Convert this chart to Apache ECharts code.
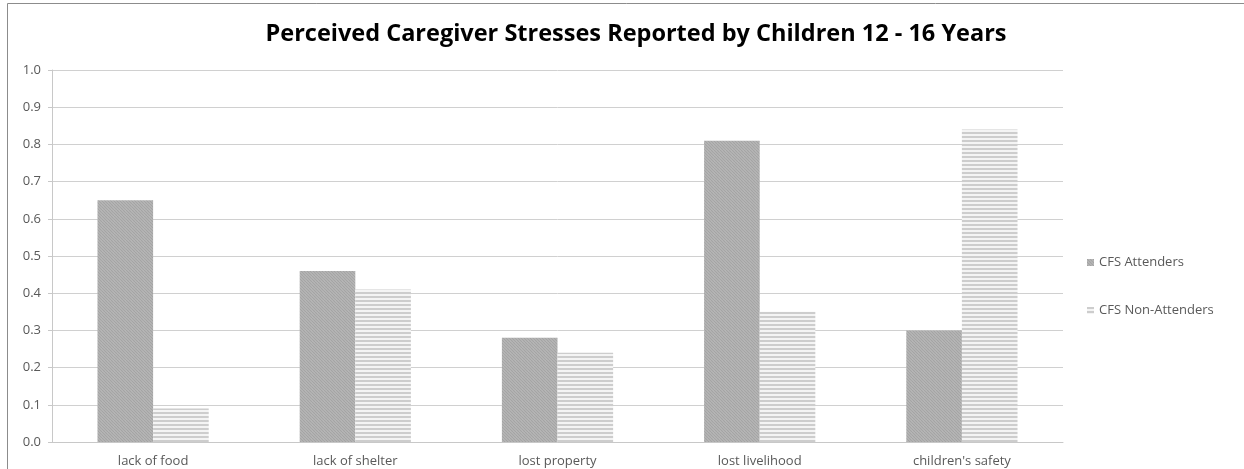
<!DOCTYPE html>
<html>
<head>
<meta charset="utf-8">
<script src="https://cdn.jsdelivr.net/npm/echarts@6/dist/echarts.min.js"></script>
<style>
  html, body { margin: 0; padding: 0; background: #fff; }
  #main { width: 1244px; height: 469px; }
</style>
</head>
<body>
<div id="main"></div>
<script>
// data
var categories = ['lack of food', 'lack of shelter', 'lost property', 'lost livelihood', "children's safety"];
var attenders = [0.65, 0.46, 0.28, 0.81, 0.30];
var nonAttenders = [0.09, 0.41, 0.24, 0.35, 0.84];

// fill patterns (diagonal hatch / horizontal stripes)
function diagPattern() {
  var c = document.createElement('canvas');
  c.width = 6; c.height = 6;
  var ctx = c.getContext('2d');
  ctx.fillStyle = '#bababa';
  ctx.fillRect(0, 0, 6, 6);
  ctx.strokeStyle = '#a4a4a4';
  ctx.lineWidth = 1.2;
  for (var k = -6; k <= 12; k += 3) {
    ctx.beginPath();
    ctx.moveTo(k, 0);
    ctx.lineTo(k + 6, 6);
    ctx.stroke();
  }
  return c;
}
function stripePattern() {
  var c = document.createElement('canvas');
  c.width = 4; c.height = 4;
  var ctx = c.getContext('2d');
  ctx.fillStyle = '#f4f4f4';
  ctx.fillRect(0, 0, 4, 4);
  ctx.fillStyle = '#cdcdcd';
  ctx.fillRect(0, 0, 4, 2);
  return c;
}

var chart = echarts.init(document.getElementById('main'));
var labelColor = '#595959';
var font = 'Open Sans';
var option = {
  backgroundColor: '#fff',
  animation: false,
  title: {
    text: 'Perceived Caregiver Stresses Reported by Children 12 - 16 Years',
    left: 631,
    top: 17,
    textAlign: 'center',
    textStyle: {
      fontFamily: font,
      fontWeight: 'bold',
      fontSize: 23.5,
      color: '#000'
    }
  },
  graphic: [{
    type: 'rect',
    shape: { x: 7.5, y: 3.5, width: 1240, height: 470 },
    style: { fill: 'none', stroke: '#8c8c8c', lineWidth: 1 },
    silent: true
  }],
  legend: {
    orient: 'vertical',
    left: 1082,
    top: 251,
    itemGap: 35,
    itemWidth: 7,
    itemHeight: 7,
    icon: 'rect',
    textStyle: { fontFamily: font, fontSize: 13, color: labelColor },
    data: ['CFS Attenders', 'CFS Non-Attenders']
  },
  grid: { left: 52, right: 181, top: 70, bottom: 27 },
  xAxis: {
    type: 'category',
    data: categories,
    axisLine: { lineStyle: { color: '#c8c8c8' } },
    axisTick: { show: false },
    axisLabel: { fontFamily: font, fontSize: 13, color: labelColor, margin: 13 }
  },
  yAxis: {
    type: 'value',
    min: 0,
    max: 1,
    interval: 0.1,
    axisLine: { show: true, lineStyle: { color: '#c8c8c8' } },
    axisTick: { show: true, length: 4, lineStyle: { color: '#c8c8c8' } },
    splitLine: { lineStyle: { color: '#d0d0d0' } },
    axisLabel: {
      fontFamily: font, fontSize: 13, color: labelColor, margin: 11,
      formatter: function (v) { return v.toFixed(1); }
    }
  },
  series: [{
    name: 'CFS Attenders',
    type: 'bar',
    data: attenders,
    barGap: '0%',
    barCategoryGap: '45%',
    itemStyle: { color: { image: diagPattern(), repeat: 'repeat' } }
  }, {
    name: 'CFS Non-Attenders',
    type: 'bar',
    data: nonAttenders,
    itemStyle: { color: { image: stripePattern(), repeat: 'repeat' } }
  }]
};
chart.setOption(option);
</script>
</body>
</html>
